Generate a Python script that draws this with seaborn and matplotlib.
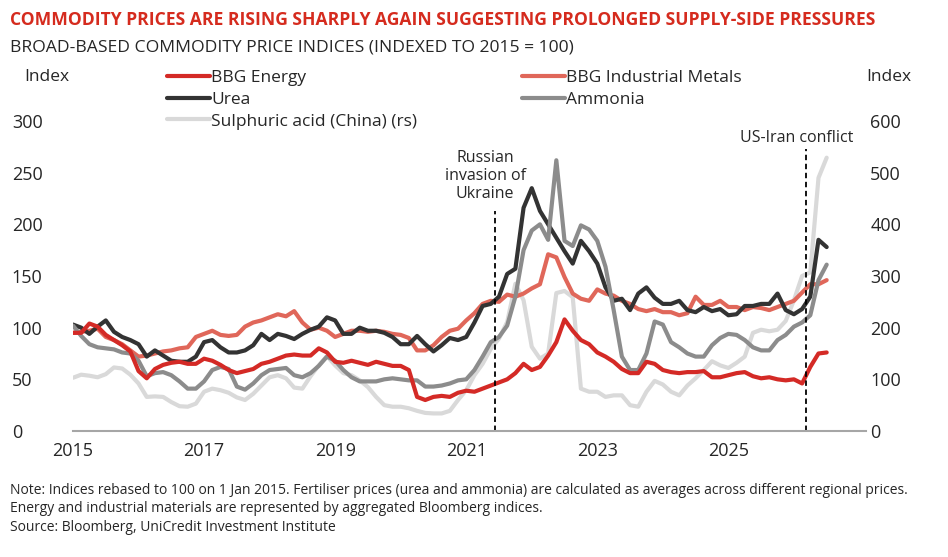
import numpy as np
import matplotlib
matplotlib.use("Agg")
import matplotlib.pyplot as plt
import seaborn as sns

years = 2015 + np.arange(93) / 8

energy = [95, 95, 104, 101, 93, 88, 83, 77, 58, 51, 60, 64, 66, 67, 65, 65, 70, 68, 64, 59, 56, 58, 60, 65, 67,
          70, 73, 74, 73, 73, 80, 76, 67, 66, 68, 66, 64, 67, 65, 63, 63, 59, 33, 30, 33, 34, 33,
          37, 39, 38, 41, 44, 47, 50, 56, 65, 59, 62, 73, 86, 108, 97, 88, 84, 76, 72, 67, 60, 56, 56,
          67, 65, 59, 57, 56, 57, 57, 58, 52, 52, 54, 56, 57, 53, 51, 52, 50, 49, 50, 46, 62, 75, 76]

metals = [95, 96, 97, 99, 91, 88, 84, 78, 72, 73, 75, 77, 78, 80, 81, 91, 94, 97, 93, 92, 93, 101, 105, 107, 110,
          113, 111, 116, 105, 98, 100, 97, 91, 94, 97, 97, 96, 97, 96, 94, 93, 90, 78, 78, 83, 91, 97,
          99, 107, 114, 123, 126, 125, 132, 130, 133, 138, 142, 171, 168, 149, 133, 128, 126, 137, 133, 131, 126, 123, 118,
          116, 118, 115, 115, 112, 114, 130, 122, 122, 126, 120, 120, 117, 120, 119, 117, 120, 123, 126, 134, 142, 142, 146]

urea = [103, 100, 94, 101, 107, 96, 91, 88, 84, 72, 78, 73, 68, 67, 67, 72, 86, 88, 81, 76, 76, 78, 83, 94, 88,
        94, 92, 89, 94, 98, 101, 110, 107, 94, 94, 100, 97, 97, 95, 91, 84, 84, 92, 84, 77, 83, 90,
        88, 91, 105, 121, 123, 130, 152, 157, 216, 235, 213, 200, 187, 174, 162, 184, 174, 162, 139, 126, 128, 117, 133,
        139, 129, 123, 123, 126, 117, 115, 120, 116, 118, 112, 113, 121, 121, 123, 123, 133, 117, 113, 118, 130, 185, 178]

ammonia = [102, 92, 84, 81, 80, 79, 76, 75, 68, 53, 56, 57, 54, 48, 41, 41, 48, 59, 62, 60, 43, 40, 46, 54, 59,
           60, 61, 54, 52, 56, 63, 72, 68, 59, 52, 48, 48, 48, 50, 51, 50, 49, 49, 43, 43, 44, 46,
           49, 50, 59, 72, 86, 91, 102, 130, 175, 194, 200, 185, 262, 184, 179, 199, 195, 184, 159, 117, 72, 59, 59,
           75, 106, 103, 86, 81, 75, 72, 72, 83, 90, 94, 93, 88, 81, 78, 78, 88, 93, 101, 105, 112, 146, 161]

# right-hand scale
sulphuric = [103, 109, 107, 104, 110, 123, 121, 109, 92, 66, 67, 66, 56, 48, 47, 53, 76, 82, 79, 74, 65, 60, 72, 88, 104,
             108, 102, 84, 82, 106, 127, 145, 127, 112, 108, 98, 85, 66, 50, 47, 47, 44, 39, 35, 34, 34, 39,
             60, 79, 108, 130, 159, 179, 211, 285, 253, 163, 140, 150, 267, 271, 259, 82, 76, 76, 66, 69, 69, 50, 47,
             76, 97, 90, 76, 69, 88, 102, 118, 135, 127, 122, 132, 144, 190, 196, 193, 196, 213, 253, 300, 307, 490, 529]

event_x = [2021.44, 2026.19]
event_top = [213, 273]
event_labels = ["Russian\ninvasion of\nUkraine", "US-Iran conflict"]
event_label_pos = [(2021.29, 247), (2026.05, 284)]

tick_years = [2015, 2017, 2019, 2021, 2023, 2025]

c_energy = "#d42a26"
c_metals = "#e0675a"
c_urea = "#333333"
c_ammonia = "#8c8c8c"
c_sulph = "#d9d9d9"

sns.set_style("white")
plt.rcParams["font.family"] = ["Open Sans", "DejaVu Sans"]

fig = plt.figure(figsize=(9.48, 5.57), dpi=100)
ax = fig.add_axes([73 / 948, 126 / 557, 793 / 948, 310 / 557])
ax2 = ax.twinx()
ax.set_zorder(2)
ax2.set_zorder(1)
ax.patch.set_visible(False)

lw = 3.0
sns.lineplot(x=years, y=sulphuric, ax=ax2, color=c_sulph, lw=lw, legend=False)
sns.lineplot(x=years, y=metals, ax=ax, color=c_metals, lw=lw, legend=False)
sns.lineplot(x=years, y=urea, ax=ax, color=c_urea, lw=lw, legend=False)
sns.lineplot(x=years, y=ammonia, ax=ax, color=c_ammonia, lw=lw, legend=False)
sns.lineplot(x=years, y=energy, ax=ax, color=c_energy, lw=lw, legend=False)
h_metals, h_urea, h_ammonia, h_energy = ax.lines[:4]
h_sulph = ax2.lines[0]

for x, top in zip(event_x, event_top):
    ax.vlines(x, 0, top, colors="black", linestyles=(0, (3, 2)), lw=1.3)
for (tx, ty), lab in zip(event_label_pos, event_labels):
    ax.text(tx, ty, lab, ha="center", va="center", fontsize=11.5, linespacing=1.15)

ax.set_xlim(2015, 2027.1)
ax.set_ylim(0, 300)
ax2.set_ylim(0, 600)
ax.set_xticks(tick_years)
ax.set_xticklabels([str(y) for y in tick_years])
ax.set_yticks(range(0, 301, 50))
ax2.set_yticks(range(0, 601, 100))
ax.set_xlabel("")
ax.set_ylabel("")
ax2.set_ylabel("")
ax.tick_params(axis="x", length=0, pad=8, labelsize=13)
ax.tick_params(axis="y", length=0, pad=44, labelsize=13)
for t in ax.get_yticklabels():
    t.set_horizontalalignment("left")
ax2.tick_params(axis="y", length=0, pad=3, labelsize=13)

for s in ax.spines.values():
    s.set_visible(False)
for s in ax2.spines.values():
    s.set_visible(False)
ax.spines["bottom"].set_visible(True)
ax.spines["bottom"].set_color("#a6a6a6")
ax.spines["bottom"].set_linewidth(1.5)

leg_kw = dict(loc="upper left", frameon=False, borderpad=0, borderaxespad=0,
              handlelength=2.45, handletextpad=0.1, labelspacing=0.32, fontsize=12.5)
fig.legend([h_energy, h_urea, h_sulph], ["BBG Energy", "Urea", "Sulphuric acid (China) (rs)"],
           bbox_to_anchor=(167 / 948, 1 - 70 / 557), **leg_kw)
fig.legend([h_metals, h_ammonia], ["BBG Industrial Metals", "Ammonia"],
           bbox_to_anchor=(522 / 948, 1 - 70 / 557), **leg_kw)

fig.text(10 / 948, 1 - 20 / 557,
         "COMMODITY PRICES ARE RISING SHARPLY AGAIN SUGGESTING PROLONGED SUPPLY-SIDE PRESSURES",
         color="#d52b1e", fontweight="bold", fontsize=12.6, va="center")
fig.text(10 / 948, 1 - 48 / 557, "BROAD-BASED COMMODITY PRICE INDICES (INDEXED TO 2015 = 100)",
         fontsize=12.6, va="center")
fig.text(47 / 948, 1 - 77 / 557, "Index", ha="center", va="center", fontsize=12.5)
fig.text(889 / 948, 1 - 77 / 557, "Index", ha="center", va="center", fontsize=12.5)

note = ("Note: Indices rebased to 100 on 1 Jan 2015. Fertiliser prices (urea and ammonia) are calculated as "
        "averages across different regional prices.\n"
        "Energy and industrial materials are represented by aggregated Bloomberg indices.\n"
        "Source: Bloomberg, UniCredit Investment Institute")
fig.text(10 / 948, 1 - 483 / 557, note, va="top", fontsize=10, linespacing=1.3)

fig.savefig("out.png", dpi=100)
